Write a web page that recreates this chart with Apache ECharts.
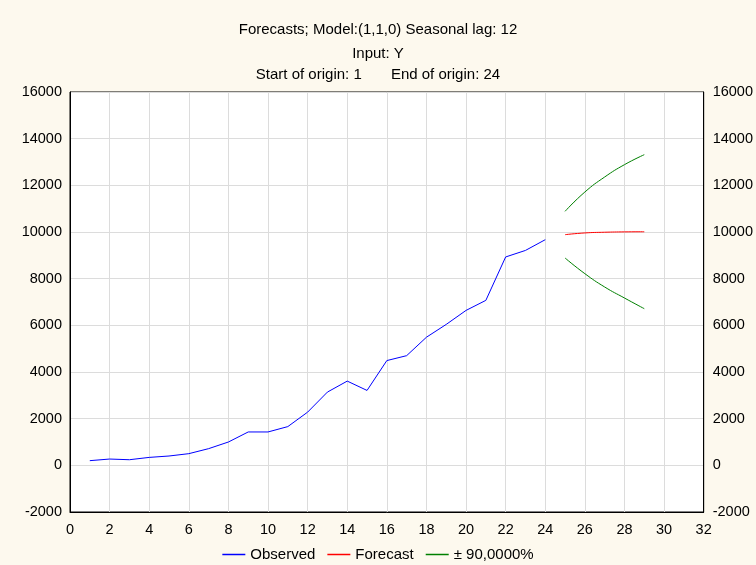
<!DOCTYPE html>
<html>
<head>
<meta charset="utf-8">
<script src="https://cdn.jsdelivr.net/npm/echarts@6/dist/echarts.min.js"></script>
<style>
  html, body { margin: 0; padding: 0; background: #fdf9ee; }
  #chart { width: 756px; height: 565px; }
</style>
</head>
<body>
<div id="chart"></div>
<script>
// observed series, x = 1..24
var observedX = [1, 2, 3, 4, 5, 6, 7, 8, 9, 10, 11, 12, 13, 14, 15, 16, 17, 18, 19, 20, 21, 22, 23, 24];
var observedY = [200, 270, 240, 340, 400, 500, 715, 1000, 1430, 1430, 1660, 2280, 3140, 3610, 3210, 4490, 4700, 5490, 6040, 6640, 7070, 8930, 9210, 9670];
// forecast, x = 25..29
var forecastX = [25, 26, 27, 28, 29];
var forecastY = [9886, 9960, 9990, 10005, 10010];
var upperY = [10886, 11714, 12357, 12886, 13314];
var lowerY = [8886, 8214, 7643, 7171, 6714];
var titleLines = ["Forecasts; Model:(1,1,0) Seasonal lag: 12", "Input: Y", "Start of origin: 1       End of origin: 24"];
var legendNames = ["Observed", "Forecast", "\u00b1 90,0000%"];
var colors = ["#0000ff", "#ff0000", "#008000"];

function pairs(xs, ys) {
  return xs.map(function (x, i) { return [x, ys[i]]; });
}
function plain(v) {
  return String(v);
}

var font = "Arial, 'Liberation Sans', sans-serif";
var myChart = echarts.init(document.getElementById("chart"));

var yAxisBase = {
  type: "value",
  min: -2000,
  max: 16000,
  interval: 2000,
  axisLine: { show: true, lineStyle: { color: "#000", width: 1 } },
  axisTick: { show: false },
  axisLabel: { color: "#000", fontSize: 14.5, fontFamily: font, margin: 8, formatter: plain },
  splitLine: { show: true, lineStyle: { color: "#dcdcdc", width: 1 } }
};

var option = {
  backgroundColor: "#fdf9ee",
  animation: false,
  title: [
    { text: titleLines[0], left: "center", top: 22 },
    { text: titleLines[1], left: "center", top: 46 },
    { text: titleLines[2], left: "center", top: 67 }
  ].map(function (t) {
    t.padding = 0;
    t.textStyle = { fontSize: 15, fontWeight: "normal", color: "#000", fontFamily: font };
    return t;
  }),
  grid: {
    left: 70,
    right: 52,
    top: 92,
    bottom: 53,
    show: true,
    backgroundColor: "#fff",
    borderColor: "#000",
    borderWidth: 1
  },
  legend: {
    top: 547,
    left: "center",
    padding: 0,
    icon: "rect",
    itemWidth: 23,
    itemHeight: 1.5,
    itemGap: 12,
    textStyle: { fontSize: 15, color: "#000", fontFamily: font },
    data: legendNames.map(function (n, i) {
      return { name: n, itemStyle: { color: colors[i] } };
    })
  },
  xAxis: {
    type: "value",
    min: 0,
    max: 32,
    interval: 2,
    axisLine: { show: true, onZero: false, lineStyle: { color: "#000", width: 1 } },
    axisTick: { show: false },
    axisLabel: { color: "#000", fontSize: 14.5, fontFamily: font, margin: 10 },
    splitLine: { show: true, lineStyle: { color: "#dcdcdc", width: 1 } }
  },
  yAxis: [
    Object.assign({}, yAxisBase, { position: "left" }),
    Object.assign({}, yAxisBase, {
      position: "right",
      axisLabel: { color: "#000", fontSize: 14.5, fontFamily: font, margin: 9, formatter: plain },
      splitLine: { show: false }
    })
  ],
  series: [
    {
      name: legendNames[0], type: "line", data: pairs(observedX, observedY),
      showSymbol: false, symbol: "none", lineStyle: { color: colors[0], width: 1 }, itemStyle: { color: colors[0] }
    },
    {
      name: legendNames[1], type: "line", data: pairs(forecastX, forecastY), smooth: true,
      showSymbol: false, symbol: "none", lineStyle: { color: colors[1], width: 1 }, itemStyle: { color: colors[1] }
    },
    {
      name: legendNames[2], type: "line", data: pairs(forecastX, upperY), smooth: true,
      showSymbol: false, symbol: "none", lineStyle: { color: colors[2], width: 1 }, itemStyle: { color: colors[2] }
    },
    {
      name: legendNames[2], type: "line", data: pairs(forecastX, lowerY), smooth: true,
      showSymbol: false, symbol: "none", lineStyle: { color: colors[2], width: 1 }, itemStyle: { color: colors[2] }
    }
  ]
};
myChart.setOption(option, true);
</script>
</body>
</html>
